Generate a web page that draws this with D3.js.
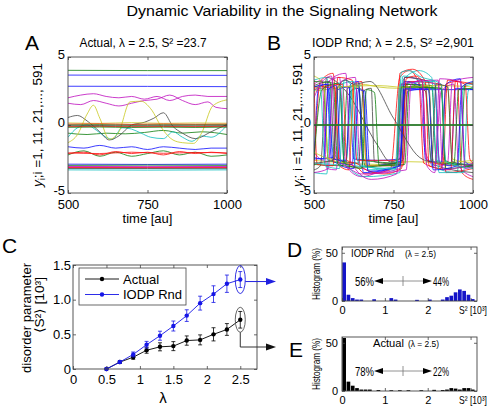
<!DOCTYPE html>
<html><head><meta charset="utf-8">
<script src="https://cdn.jsdelivr.net/npm/d3@7"></script>
<style>body{margin:0;background:#fff}svg{display:block;font-family:"Liberation Sans",Arial,Helvetica,sans-serif}</style>
</head><body><svg id="c" width="492" height="410"></svg>
<script>
// ---------------- DATA ----------------
const lambdas   = [0.5,0.7,0.9,1.1,1.3,1.5,1.7,1.9,2.1,2.3,2.5];
const actualS2  = [0,0.10,0.17,0.27,0.32,0.33,0.41,0.42,0.50,0.57,0.71];
const actualErr = [0,0.015,0.03,0.043,0.058,0.065,0.067,0.072,0.095,0.085,0.12];
const iodpS2    = [0,0.10,0.21,0.35,0.48,0.62,0.77,0.95,1.08,1.23,1.29];
const iodpErr   = [0,0.015,0.035,0.048,0.065,0.072,0.084,0.10,0.12,0.125,0.115];
const xTicksC = [0,0.5,1,1.5,2,2.5];
const xTickLabelsC = ["0","0.5","1","1.5","2","2.5"];
const yTicksC = [0,0.5,1,1.5];
const yTickLabelsC = ["0","0.5","1.0","1.5"];

const histBinWidth = 0.1;
const histIODP   = [40,6.5,3,1.5,1.5,0,0,1.8,0,0,0,3,1.5,0,0,0,0,1.2,0,0,1.5,0,0,1.5,4,5.5,9,12,10.5,6.5,2];
const histActual = [55,9.7,5.5,3,1.5,1.5,1.5,0,1,0,0,0.8,0,0.8,0,0.8,0,0,0.8,0,0,1.2,0,1,1.5,3,2.5,1.5,3,3,1.5];
const histXTicks = [0,1,2,3];
const histYTicks = [0,50];

const timeTicks = [500,750,1000];
const yTicksTS = [-5,0,5];

// time traces (t, y_i) for Actual (panel A)
const tracesA = [
 {c:"g", p:[[500,4.02],[750,4.0],[1000,4.0]]},
 {c:"b", p:[[500,3.67],[750,3.66],[1000,3.65]]},
 {c:"b", p:[[500,2.85],[750,2.84],[1000,2.82]]},
 {c:"m", p:[[500,2.0],[540,2.2],[580,2.3],[620,2.1],[660,2.0],[700,2.1],[740,1.9],[780,2.1],[820,1.8],[860,2.1],[900,2.2],[940,2.1],[1000,2.1]]},
 {c:"m", p:[[500,1.6],[540,1.5],[580,1.8],[620,1.6],[660,1.4],[700,1.6],[740,1.8],[780,1.9],[820,2.2],[860,1.8],[900,1.5],[940,1.7],[965,1.3],[1000,1.2]]},
 {c:"g", p:[[500,-0.6],[560,-0.7],[620,-0.6],[680,-0.65],[740,-0.55],[800,-0.4],[860,-0.6],[920,-0.5],[1000,-0.7]]},
 {c:"c", p:[[500,-0.9],[530,-0.2],[560,0],[590,-0.4],[620,-0.9],[640,-1.05],[670,-0.2],[700,-0.3],[730,-0.6],[760,-0.9],[800,-1.0],[830,-0.5],[860,-0.9],[890,-1.2],[920,-0.8],[950,-0.9],[1000,0.0]]},
 {c:"k", p:[[500,0.55],[530,0.7],[560,0.3],[600,-0.5],[630,-1.1],[660,-0.8],[700,0],[740,0.2],[770,0.5],[800,0.9],[830,-0.1],[860,-0.6],[900,-1.0],[950,-0.5],[1000,0.05]]},
 {c:"y", p:[[500,-1.3],[530,-0.7],[560,0.8],[580,1.45],[600,0.5],[630,-1.05],[660,-0.5],[695,1.7],[730,1.75],[760,1.2],[800,-0.4],[830,-1.1],[860,-1.3],[895,-1.35],[920,-0.6],[955,1.4],[1000,1.85]]},
 {c:"y", p:[[500,0.15],[600,0.12],[700,0.17],[800,0.12],[900,0.15],[1000,0.13]]},
 {c:"r", p:[[500,0.06],[600,0.08],[700,0.04],[800,0.07],[900,0.05],[1000,0.06]]},
 {c:"g", p:[[500,0.0],[600,0.02],[700,-0.02],[800,0.01],[900,0.0],[1000,0.01]]},
 {c:"k", p:[[500,-0.06],[600,-0.04],[700,-0.08],[800,-0.05],[900,-0.07],[1000,-0.05]]},
 {c:"r", p:[[500,-0.12],[600,-0.1],[700,-0.13],[800,-0.11],[900,-0.12],[1000,-0.1]]},
 {c:"g", p:[[500,-0.17],[600,-0.15],[700,-0.18],[800,-0.16],[900,-0.18],[1000,-0.16]]},
 {c:"b", p:[[500,-1.6],[550,-1.7],[600,-1.5],[650,-1.7],[700,-1.6],[750,-1.8],[800,-1.6],[850,-1.7],[900,-1.8],[950,-1.7],[1000,-1.7]]},
 {c:"g", p:[[500,-2.2],[550,-1.9],[600,-2.3],[650,-2.0],[700,-2.3],[750,-2.1],[800,-1.9],[850,-2.2],[900,-2.0],[950,-2.3],[1000,-2.2]]},
 {c:"r", p:[[500,-2.1],[550,-2.0],[600,-2.2],[650,-1.95],[700,-2.1],[750,-2.0],[800,-2.2],[850,-1.95],[900,-2.1],[950,-2.0],[1000,-2.1]]},
 {c:"r", p:[[500,-2.05],[600,-2.1],[700,-2.0],[800,-2.08],[900,-2.02],[1000,-2.05]]},
 {c:"b", p:[[500,-2.88],[750,-2.9],[1000,-2.88]]},
 {c:"g", p:[[500,-2.97],[750,-2.95],[1000,-2.97]]},
 {c:"m", p:[[500,-3.05],[750,-3.06],[1000,-3.05]]},
 {c:"m", p:[[500,-3.1],[750,-3.11],[1000,-3.1]]},
 {c:"r", p:[[500,-3.13],[750,-3.14],[1000,-3.13]]},
 {c:"k", p:[[500,-3.2],[750,-3.2],[1000,-3.21]]},
 {c:"c", p:[[500,-3.3],[750,-3.32],[1000,-3.3]]}
];

// time traces (t, y_i) for IODP Rnd (panel B)
const tracesB = [
 {c:"y", p:[[500,2.5],[600,2.8],[650,3.0],[700,2.8],[760,2.7],[820,2.8],[900,2.9],[1000,2.8]]},
 {c:"y", p:[[500,-2.6],[600,-2.8],[700,-2.9],[800,-2.7],[1000,-3.0]]},
 {c:"b", p:[[500,-2.5],[560,-2.4],[575,2.6],[610,2.8],[625,-2.5],[700,-2.6],[770,-2.5],[785,2.6],[1000,2.6]]},
 {c:"g", p:[[500,2.8],[530,2.9],[545,-2.6],[600,-2.8],[615,2.5],[640,2.7],[660,-3.0],[760,-2.8],[775,3.0],[860,2.8],[875,-2.7],[1000,-2.9]]},
 {c:"r", p:[[500,-3.0],[520,3.2],[560,3.8],[580,-2.5],[640,-3.2],[660,-3.6],[740,-3.3],[770,3.5],[800,4.0],[830,3.0],[845,-2.8],[900,-3.2],[915,3.0],[950,3.2],[965,-3.5],[1000,-4.0]]},
 {c:"c", p:[[500,3.3],[540,3.5],[560,-2.0],[600,-2.8],[620,2.6],[650,2.9],[670,-3.3],[760,-3.0],[780,3.6],[850,3.0],[870,-3.0],[950,-3.5],[970,2.8],[1000,3.0]]},
 {c:"m", p:[[500,-2.0],[530,-2.6],[545,3.2],[580,3.5],[600,-3.0],[650,-3.8],[700,-3.5],[765,-3.0],[780,3.0],[830,3.2],[850,-2.0],[880,-3.0],[900,2.5],[940,3.0],[955,-3.0],[1000,-3.8]]},
 {c:"k", p:[[500,-3.3],[520,-3.0],[540,3.5],[600,2.5],[700,-1.5],[740,-2.7],[770,-2.5],[790,3.0],[850,2.5],[870,-2.7],[1000,-3.1]]},
 {c:"b", p:[[500,-2.6],[515,2.8],[545,3.0],[560,-2.7],[620,-2.9],[635,2.7],[660,2.5],[675,-3.0],[780,-2.6],[795,2.5],[880,2.7],[895,-2.8],[930,-3.0],[945,2.7],[1000,2.6]]},
 {c:"r", p:[[500,2.6],[565,2.8],[580,-3.0],[610,-3.3],[625,3.0],[650,3.2],[665,-3.0],[780,-3.0],[795,3.2],[900,3.0],[915,-3.5],[1000,-3.2]]},
 {c:"g", p:[[500,-2.9],[590,-3.0],[605,2.7],[640,2.9],[655,-2.6],[775,-2.8],[790,3.0],[870,2.9],[885,-2.7],[960,-2.9],[975,3.0],[1000,3.1]]},
 {c:"c", p:[[500,-3.5],[540,-3.6],[555,2.9],[580,3.1],[595,-2.7],[660,-3.8],[770,-3.5],[780,3.3],[830,4.0],[870,3.5],[885,-2.6],[990,-3.0],[1000,-3.2]]},
 {c:"m", p:[[500,3.0],[525,3.3],[540,-3.2],[570,-3.3],[585,3.2],[630,3.5],[645,-3.0],[700,-3.5],[770,-3.2],[785,3.5],[880,3.0],[895,-3.0],[920,-2.8],[935,3.2],[1000,3.5]]},
 {c:"y", p:[[500,3.6],[530,3.0],[545,-2.5],[610,-2.8],[625,2.8],[650,2.6],[665,-3.0],[760,-2.9],[770,2.8],[920,2.9],[935,-2.5],[1000,-2.8]]},
 {c:"k", p:[[500,2.9],[550,3.2],[565,-2.5],[640,-2.8],[655,2.5],[680,2.7],[690,-2.7],[770,-2.9],[785,3.5],[860,3.2],[875,-2.9],[1000,-3.5]]},
 {c:"b", p:[[500,2.8],[540,3.0],[555,-2.5],[600,-2.6],[615,3.0],[640,3.2],[655,-3.5],[770,-3.0],[785,3.2],[840,2.8],[850,-2.5],[900,-2.8],[915,3.0],[960,3.4],[975,-2.7],[1000,-3.0]]},
 {c:"r", p:[[500,3.3],[510,-2.9],[560,-3.0],[575,3.5],[620,3.3],[635,-2.6],[760,-2.6],[770,3.8],[810,4.1],[850,3.2],[862,-3.0],[930,-3.3],[945,3.2],[1000,3.0]]},
 {c:"g", p:[[500,3.2],[580,3.0],[595,-2.8],[650,-3.2],[665,2.6],[690,2.4],[705,-3.0],[785,-2.9],[800,2.8],[900,2.7],[915,-3.2],[1000,-3.0]]},
 {c:"c", p:[[500,-2.8],[570,-2.9],[585,3.0],[625,3.2],[640,-2.9],[755,-3.3],[770,3.0],[880,3.2],[893,-3.5],[970,-3.5],[985,2.5],[1000,2.8]]},
 {c:"m", p:[[500,-3.5],[545,-3.2],[560,3.5],[600,3.8],[615,-2.7],[680,-4.0],[760,-3.6],[775,3.0],[890,3.3],[905,-3.3],[1000,-2.8]]},
 {c:"y", p:[[500,-2.0],[560,-2.5],[575,2.8],[700,2.9],[760,2.8],[800,2.7],[860,2.9],[875,-2.8],[1000,-2.6]]},
 {c:"r", p:[[500,2.7],[590,3.0],[603,-2.6],[640,-2.9],[655,-3.2],[720,-3.6],[775,-3.2],[790,3.4],[820,3.6],[840,3.2],[855,-2.6],[905,-2.9],[920,3.3],[975,3.0],[990,-2.5],[1000,-2.8]]},
 {c:"b", p:[[500,-2.4],[530,-2.5],[545,2.6],[570,2.9],[585,-3.0],[625,-3.2],[640,2.6],[655,2.5],[670,-3.4],[770,-3.0],[787,2.7],[860,2.6],[875,-3.3],[950,-3.0],[965,2.8],[1000,3.2]]},
 {c:"g", p:[[500,-2.5],[525,2.6],[560,3.0],[575,-2.9],[640,-3.1],[760,-2.8],[775,2.8],[900,2.7],[912,-2.6],[940,-2.8],[955,2.6],[1000,2.7]]},
 {c:"c", p:[[500,2.5],[520,2.8],[535,-3.0],[580,-3.2],[595,3.3],[615,3.0],[630,-3.0],[760,-3.2],[775,3.9],[800,4.0],[830,3.6],[900,3.0],[915,-2.7],[1000,-3.2]]},
 {c:"m", p:[[500,2.0],[520,3.0],[555,3.6],[570,-2.5],[600,-3.0],[650,-3.6],[790,-3.3],[805,3.0],[840,3.3],[855,-3.0],[880,-3.5],[895,3.4],[960,3.2],[975,-3.2],[1000,-3.0]]},
 {c:"k", p:[[500,-2.8],[560,-2.6],[575,2.8],[600,3.3],[625,3.0],[676,3.2],[750,0.5],[833,-2.4],[870,-2.7],[884,3.0],[920,2.8],[935,-2.7],[1000,-3.0]]},
 {c:"G", p:[[500,0],[750,0],[1000,0]]}
];

// ---------------- DRAWING ----------------
const COL = {b:"#1010ff",g:"#108010",r:"#ff1010",c:"#10bfbf",m:"#bf10bf",y:"#c8c820",k:"#484848",G:"#2a7a2a"};
const svg = d3.select("#c");

function txt(parent, x, y, s, o={}) {
  const t = parent.append("text").attr("x",x).attr("y",y).attr("font-size",o.size||12)
    .attr("text-anchor",o.anchor||"start").attr("fill",o.fill||"#000").text(s);
  if (o.len) t.attr("textLength",o.len).attr("lengthAdjust","spacingAndGlyphs");
  if (o.rot) t.attr("transform",`rotate(${o.rot},${x},${y})`);
  return t;
}
function arrowHead(g, tipX, tipY, dir, len, hw, color) {
  const bx = tipX - dir*len;
  g.append("path").attr("d",`M${tipX},${tipY}L${bx},${tipY-hw}L${bx},${tipY+hw}Z`).attr("fill",color).attr("stroke","none");
}

function boxAxes(g, x, y, xt, yt, o) {
  const [x0,x1] = x.range(), [yb,yt0] = y.range();
  const ax = g.append("g").attr("transform",`translate(0,${yb})`)
    .call(d3.axisBottom(x).tickValues(xt).tickSize(-3).tickSizeOuter(0).tickPadding(o.xpad).tickFormat(o.xfmt));
  const ay = g.append("g").attr("transform",`translate(${x0},0)`)
    .call(d3.axisLeft(y).tickValues(yt).tickSize(-3).tickSizeOuter(0).tickPadding(o.ypad).tickFormat(o.yfmt));
  const at = g.append("g").attr("transform",`translate(0,${yt0})`)
    .call(d3.axisTop(x).tickValues(xt).tickSize(-3).tickSizeOuter(0).tickFormat(""));
  const ar = g.append("g").attr("transform",`translate(${x1},0)`)
    .call(d3.axisRight(y).tickValues(yt).tickSize(-3).tickSizeOuter(0).tickFormat(""));
  [ax,ay,at,ar].forEach(a=>{
    a.select(".domain").remove();
    a.selectAll("line").attr("stroke","#444").attr("stroke-width",0.8);
    a.attr("font-family",null).attr("font-size",o.fs);
    a.selectAll("text").attr("fill","#000");
  });
  if (o.ydy !== undefined) ay.selectAll("text").attr("dy", o.ydy);
  g.append("rect").attr("x",x0).attr("y",yt0).attr("width",x1-x0).attr("height",yb-yt0)
    .attr("fill","none").attr("stroke","#444").attr("stroke-width",0.9);
}

// title
txt(svg, 282, 16, "Dynamic Variability in the Signaling Network", {size:15.5, anchor:"middle", len:311});

// ---- panels A and B ----
function tsPanel(id, x0, x1, traces, curve, sw) {
  const x = d3.scaleLinear().domain([500,1000]).range([x0,x1]);
  const y = d3.scaleLinear().domain([-5,5]).range([193,57]);
  const g = svg.append("g");
  g.append("clipPath").attr("id","clip"+id).append("rect").attr("x",x0).attr("y",57).attr("width",x1-x0).attr("height",136);
  const line = d3.line().x(d=>x(d[0])).y(d=>y(d[1])).curve(curve);
  g.append("g").attr("clip-path",`url(#clip${id})`).selectAll("path").data(traces).join("path")
    .attr("d",d=>line(d.p)).attr("fill","none").attr("stroke",d=>COL[d.c])
    .attr("stroke-width",d=>d.c==="G"?2:sw).attr("stroke-opacity",0.9);
  boxAxes(g, x, y, timeTicks, yTicksTS, {xpad:7, ypad:3, fs:13, ydy:"0.1em", xfmt:d=>String(d), yfmt:d=>String(d)});
  txt(g, (x0+x1)/2, 223, "time [au]", {size:13, anchor:"middle"});
  return g;
}
const gA = tsPanel("A", 68, 227, tracesA, d3.curveMonotoneX, 0.9);
const gB = tsPanel("B", 314, 473, tracesB, d3.curveMonotoneX, 0.9);

function yLabelTS(g, bx, cy, semi) {
  const t = g.append("text").attr("transform",`translate(${bx},${cy}) rotate(-90)`)
    .attr("text-anchor","middle").attr("font-size",13).attr("textLength",124).attr("lengthAdjust","spacingAndGlyphs");
  t.append("tspan").attr("font-style","italic").text("y");
  t.append("tspan").attr("font-size",9).attr("dy",3).text("i");
  t.append("tspan").attr("dy",-3).text(semi + "i =1, 11, 21,..., 591");
}
yLabelTS(gA, 42, 125, ";");
yLabelTS(gB, 302, 125, "; ");
txt(svg, 25, 50, "A", {size:21});
txt(svg, 267, 50, "B", {size:21});
txt(svg, 143, 47, "Actual, \u03BB = 2.5, S\u00B2 =23.7", {size:12.5, anchor:"middle", len:127});
txt(svg, 393, 47, "IODP Rnd; \u03BB = 2.5, S\u00B2 =2,901", {size:12, anchor:"middle", len:162});

// ---- panel C ----
const xC = d3.scaleLinear().domain([0,2.75]).range([73,257]);
const yC = d3.scaleLinear().domain([0,1.5]).range([369,265]);
const gC = svg.append("g");
const seriesC = [
  {name:"Actual", vals:actualS2, err:actualErr, color:"#000"},
  {name:"IODP Rnd", vals:iodpS2, err:iodpErr, color:"#1515e6"}
];
const lineC = d3.line().x(d=>xC(d[0])).y(d=>yC(d[1]));
seriesC.forEach(s=>{
  const pts = lambdas.map((l,i)=>[l, s.vals[i], s.err[i]]);
  const gs = gC.append("g");
  gs.append("path").attr("d",lineC(pts)).attr("fill","none").attr("stroke",s.color).attr("stroke-width",0.9);
  gs.selectAll("g.eb").data(pts.filter(p=>p[2]>0)).join("g").each(function(p){
    const e = d3.select(this), cx = xC(p[0]);
    e.append("line").attr("x1",cx).attr("x2",cx).attr("y1",yC(p[1]-p[2])).attr("y2",yC(p[1]+p[2]));
    e.append("line").attr("x1",cx-2).attr("x2",cx+2).attr("y1",yC(p[1]-p[2])).attr("y2",yC(p[1]-p[2]));
    e.append("line").attr("x1",cx-2).attr("x2",cx+2).attr("y1",yC(p[1]+p[2])).attr("y2",yC(p[1]+p[2]));
    e.selectAll("line").attr("stroke",s.color).attr("stroke-width",0.8);
  });
  gs.selectAll("circle").data(pts).join("circle").attr("cx",d=>xC(d[0])).attr("cy",d=>yC(d[1])).attr("r",2.2).attr("fill",s.color);
});
boxAxes(gC, xC, yC, xTicksC, yTicksC, {xpad:6, ypad:2, fs:13,
  xfmt:(d,i)=>xTickLabelsC[i], yfmt:(d,i)=>yTickLabelsC[i]});
// legend
const lg = gC.append("g");
lg.append("rect").attr("x",79).attr("y",268).attr("width",107).attr("height",37).attr("fill","#fff").attr("stroke","#444").attr("stroke-width",0.8);
seriesC.forEach((s,i)=>{
  const yy = 279 + i*15.5;
  lg.append("line").attr("x1",85).attr("x2",119).attr("y1",yy).attr("y2",yy).attr("stroke",s.color).attr("stroke-width",0.9);
  lg.append("circle").attr("cx",102).attr("cy",yy).attr("r",2.2).attr("fill",s.color);
  txt(lg, 123, yy+4.5, s.name, {size:13});
});
// labels C
txt(svg, 2, 253, "C", {size:21});
txt(svg, 31, 318, "disorder parameter", {size:12.5, anchor:"middle", rot:-90, len:110});
txt(svg, 44, 305, "\u27E8S\u00B2\u27E9 [10\u00B3]", {size:12.5, anchor:"middle", rot:-90, len:56});
txt(svg, 163, 403, "\u03BB", {size:15, anchor:"middle"});

// ellipses & arrows
const lastI = lambdas.length-1;
const ex = xC(lambdas[lastI]);
const eyB = yC(iodpS2[lastI]), eyK = yC(actualS2[lastI]);
gC.append("ellipse").attr("cx",ex).attr("cy",eyB).attr("rx",5).attr("ry",14).attr("fill","none").attr("stroke","#2020e0").attr("stroke-width",0.9);
gC.append("ellipse").attr("cx",ex).attr("cy",eyK).attr("rx",5).attr("ry",12.5).attr("fill","none").attr("stroke","#555").attr("stroke-width",0.9);
gC.append("line").attr("x1",ex+5).attr("x2",268).attr("y1",eyB+2).attr("y2",eyB+2).attr("stroke","#2020e0").attr("stroke-width",1);
arrowHead(gC, 276, eyB+2, 1, 10, 3.5, "#2020e0");
gC.append("path").attr("d",`M${ex},${eyK+12.5}V347H268`).attr("fill","none").attr("stroke","#333").attr("stroke-width",1);
arrowHead(gC, 276, 347, 1, 10, 3.5, "#111");

// ---- panels D and E ----
function histPanel(vals, y0, y1, color, name, pctL, pctR) {
  const x = d3.scaleLinear().domain([0,3.15]).range([342,477]);
  const y = d3.scaleLinear().domain([0,56]).range([y1,y0]);
  const g = svg.append("g");
  g.selectAll("rect.bar").data(vals).join("rect")
    .attr("x",(d,i)=>x(i*histBinWidth)+0.3).attr("width",x(histBinWidth)-x(0)-0.6)
    .attr("y",d=>y(d)).attr("height",d=>y(0)-y(d)).attr("fill",color);
  boxAxes(g, x, y, histXTicks, histYTicks, {xpad:5, ypad:4, fs:11, xfmt:d=>d===3?"":String(d), yfmt:d=>String(d)});
  txt(g, 459, y1+13, "S\u00B2 [10\u00B3]", {size:10.5, len:28});
  txt(g, 320, (y0+y1)/2, "Histogram (%)", {size:10.5, anchor:"middle", rot:-90, len:52});
  // annotation
  const ay = y0 + 34;
  txt(g, name.x, y0+10, name.t, {size:11.5, len:name.len});
  txt(g, name.x2, y0+10, "(\u03BB = 2.5)", {size:9, len:31});
  txt(g, 355, ay+4.5, pctL, {size:12, len:19});
  txt(g, 433, ay+4.5, pctR, {size:12, len:16});
  g.append("line").attr("x1",380).attr("x2",425).attr("y1",ay).attr("y2",ay).attr("stroke","#777").attr("stroke-width",0.8);
  g.append("line").attr("x1",403).attr("x2",403).attr("y1",ay-5).attr("y2",ay+5).attr("stroke","#777").attr("stroke-width",0.8);
  arrowHead(g, 374, ay, -1, 9, 3, "#000");
  arrowHead(g, 432, ay, 1, 9, 3, "#000");
}
histPanel(histIODP, 247, 301, "#1414c8", {t:"IODP Rnd", x:351, x2:405, len:43}, "56%", "44%");
histPanel(histActual, 337, 391, "#000", {t:"Actual", x:373, x2:408, len:31}, "78%", "22%");
txt(svg, 287, 257, "D", {size:21});
txt(svg, 289, 357, "E", {size:21});
</script></body></html>
